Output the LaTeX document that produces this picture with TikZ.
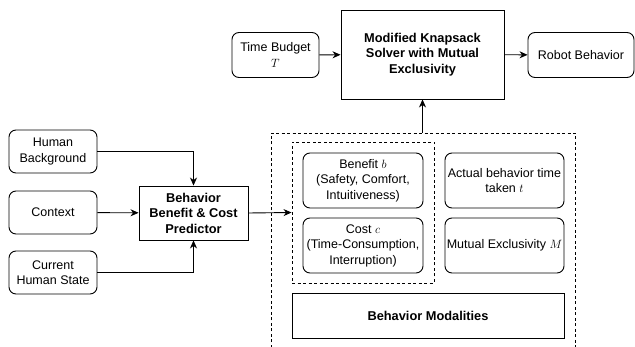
\documentclass[tikz,border=0pt]{standalone}
\usepackage{fontspec}
\setmainfont{Liberation Sans}
\usetikzlibrary{arrows.meta}
\begin{document}
\begin{tikzpicture}[x=1pt,y=-1pt,
  font=\fontsize{12.5}{15.5}\selectfont,
  every node/.style={align=center,inner sep=1pt},
  rbox/.style={draw,rounded corners=7pt,line width=0.9pt},
  sbox/.style={draw,line width=0.9pt},
  bold/.style={font=\fontsize{12.8}{15.5}\selectfont\bfseries},
  dbox/.style={draw,dashed,dash pattern=on 3pt off 2.5pt,line width=0.9pt},
  conn/.style={line width=0.9pt,-{Stealth[length=8pt,width=7pt,inset=2.5pt]}}]
\useasboundingbox (0,0) rectangle (635,347);
% outer dashed container (open at the bottom)
\draw[dbox] (271,348) -- (271,133) -- (575,133) -- (575,348);
\coordinate (outtop) at (422.5,133);
% nodes
\node[rbox,minimum width=87pt,minimum height=45pt] (tb) at (275.5,55) {Time Budget\\$T$};
\node[sbox,bold,minimum width=163pt,minimum height=89pt] (solver) at (422.5,54.5) {Modified Knapsack\\Solver with Mutual\\Exclusivity};
\node[rbox,minimum width=106pt,minimum height=45pt] (robot) at (581,55) {Robot Behavior};
\node[rbox,minimum width=88pt,minimum height=43pt] (hb) at (53,151.5) {Human\\Background};
\node[rbox,minimum width=88pt,minimum height=43pt] (ctx) at (53,212.5) {Context};
\node[rbox,minimum width=88pt,minimum height=43pt] (chs) at (53,272.5) {Current\\Human State};
\node[sbox,bold,minimum width=109pt,minimum height=54pt] (pred) at (193.5,213) {Behavior\\Benefit \& Cost\\Predictor};
\node[dbox,minimum width=142pt,minimum height=141pt] (inner) at (363,212.5) {};
\node[rbox,minimum width=120pt,minimum height=55pt] (ben) at (363,180.5) {Benefit $b$\\(Safety, Comfort,\\Intuitiveness)};
\node[rbox,minimum width=120pt,minimum height=55pt] (cost) at (363,245.5) {Cost $c$\\(Time-Consumption,\\Interruption)};
\node[rbox,minimum width=119pt,minimum height=55pt] (act) at (504.5,180.5) {Actual behavior time\\taken $t$};
\node[rbox,minimum width=119pt,minimum height=55pt] (mut) at (504.5,245.5) {Mutual Exclusivity $M$};
\node[sbox,bold,minimum width=272pt,minimum height=45pt] (mod) at (428,315.5) {Behavior Modalities};
% connectors
\draw[conn] (tb) -- (solver);
\draw[conn] (solver) -- (robot);
\draw[conn] (hb.east) -| (pred.north);
\draw[conn] (ctx) -- (pred);
\draw[conn] (chs.east) -| (pred.south);
\draw[conn] (pred.east) -- (inner.west);
\draw[conn] (outtop) -- (solver.south);
\end{tikzpicture}
\end{document}
